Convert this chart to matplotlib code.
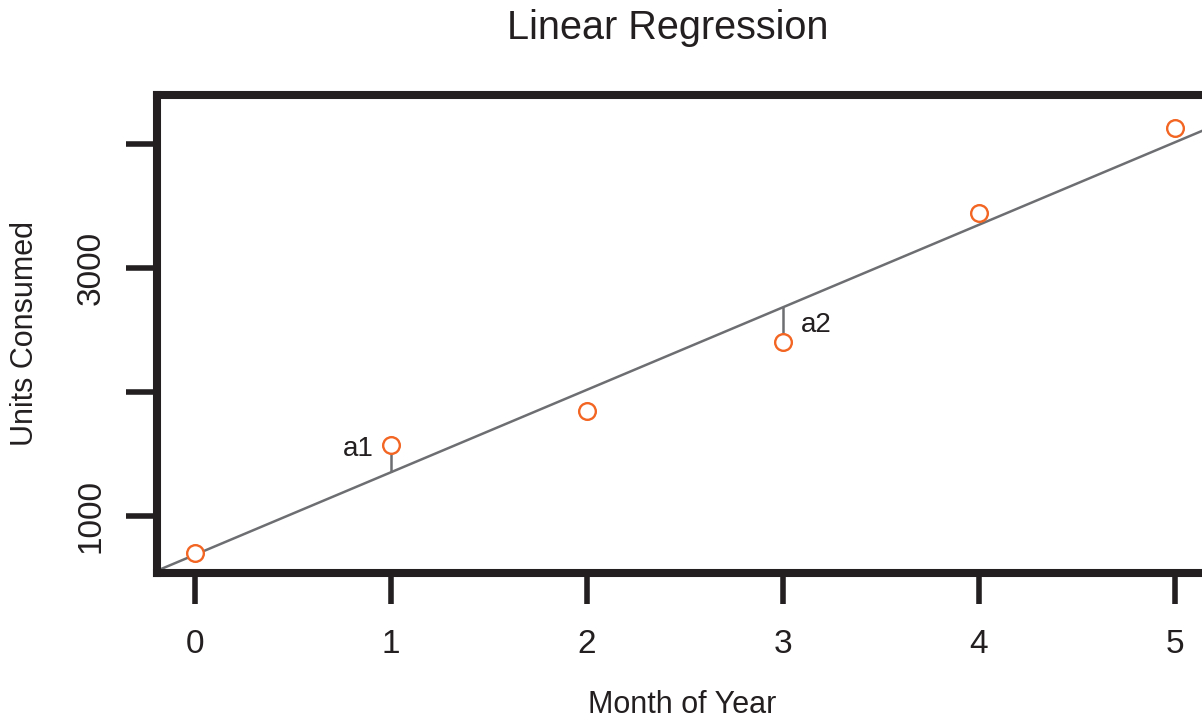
import matplotlib
matplotlib.use("Agg")
import matplotlib.pyplot as plt
import numpy as np

# data
months = [0, 1, 2, 3, 4, 5]
units = [705, 1575, 1850, 2400, 3445, 4130]
xtick_vals = [0, 1, 2, 3, 4, 5]
ytick_vals = [1000, 2000, 3000, 4000]
ytick_labels = ["1000", "", "3000", ""]
residual_idx = [1, 3]
residual_names = ["a1", "a2"]

ORANGE = "#F26522"
GREY = "#6D6E71"
INK = "#231F20"

plt.rcParams["font.family"] = ["Liberation Sans", "DejaVu Sans"]

W, H = 1202, 721
fig = plt.figure(figsize=(W / 100, H / 100), dpi=100)

# plot box: left edge at 157px, top 95px, bottom 573px, right edge runs off the image
left, top, bottom, right = 157, 95, 573, 1240
ax = fig.add_axes([left / W, 1 - bottom / H, (right - left) / W, (bottom - top) / H])

x = np.array(months, dtype=float)
y = np.array(units, dtype=float)
slope, intercept = np.polyfit(x, y, 1)
fitted = intercept + slope * x

ax.axline((0, intercept), slope=slope, color=GREY, lw=1.8, zorder=2)
for i, name in zip(residual_idx, residual_names):
    ax.vlines(x[i], y[i], fitted[i], color=GREY, lw=1.8, zorder=2)
ax.plot(x, y, "o", ms=12, mfc="white", mec=ORANGE, mew=1.7, zorder=3)

ax.text(x[1] - 0.09, y[1] - 35, residual_names[0], ha="right", va="center",
        fontsize=20, color=INK)
ax.text(x[3] + 0.09, (y[3] + fitted[3]) / 2, residual_names[1], ha="left",
        va="center", fontsize=20, color=INK)

ax.set_xlim((left - 195) / 196, (right - 195) / 196)
ax.set_ylim(1000 - (bottom - 516) / 0.124, 1000 + (516 - top) / 0.124)

ax.set_xticks(xtick_vals)
ax.set_xticklabels([str(v) for v in xtick_vals])
ax.set_yticks(ytick_vals)
ax.set_yticklabels(ytick_labels)
ax.tick_params(axis="both", length=22, width=4, color=INK, labelsize=24,
               labelcolor=INK)
ax.tick_params(axis="x", pad=18)
ax.tick_params(axis="y", pad=14, labelrotation=90)
for lbl in ax.get_yticklabels():
    lbl.set_verticalalignment("center")

for sp in ax.spines.values():
    sp.set_linewidth(5.8)
    sp.set_color(INK)

fig.text(668 / W, 1 - 28 / H, "Linear Regression", ha="center", va="center",
         fontsize=28.5, color=INK)
fig.text(682 / W, 1 - 705 / H, "Month of Year", ha="center", va="center",
         fontsize=22, color=INK)
fig.text(25 / W, 1 - 334 / H, "Units Consumed", ha="center", va="center",
         rotation=90, fontsize=22, color=INK)

fig.savefig("out.png", dpi=100)
